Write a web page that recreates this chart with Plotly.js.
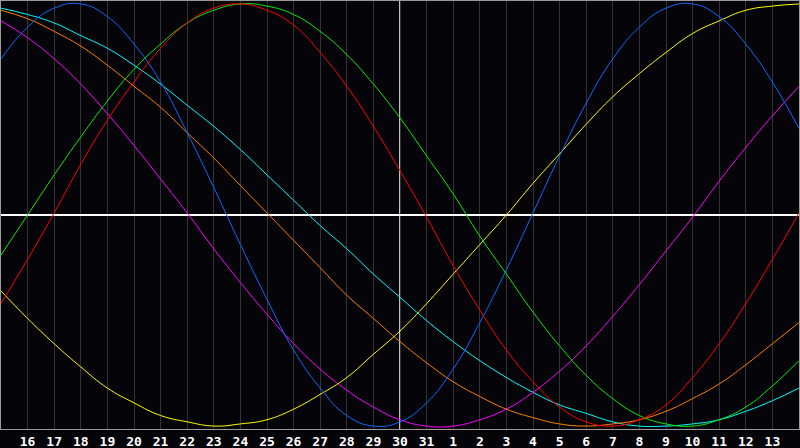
<!DOCTYPE html>
<html>
<head>
<meta charset="utf-8">
<script src="https://cdn.plot.ly/plotly-3.0.1.min.js"></script>
<style>
  html, body { margin: 0; padding: 0; background: #050409; }
  #chart { width: 800px; height: 448px; }
</style>
</head>
<body>
<div id="chart"></div>
<script>
/* ── Biorhythm chart, 30 days around today ── */

// day index: 15..31 this month, 32.. = 1.. next month
const DAYS = [15,16,17,18,19,20,21,22,23,24,25,26,27,28,29,30,31,32,33,34,35,36,37,38,39,40,41,42,43,44,45];
const TICK_DAYS = [16,17,18,19,20,21,22,23,24,25,26,27,28,29,30,31,32,33,34,35,36,37,38,39,40,41,42,43,44];
const TICK_LABELS = ['16','17','18','19','20','21','22','23','24','25','26','27','28','29','30','31',
                     '1','2','3','4','5','6','7','8','9','10','11','12','13'];
const TODAY = 30;

// values, -100..100, one per day
const PHYSICAL = [74,89,98,100,94,81,63,39,13,-14,-40,-64,-82,-95,-100,-98,-89,-73,-51,-26,1,28,53,74,89,98,100,94,81,63,41];
const EMOTIONAL = [-42,-21,1,24,45,63,79,91,98,100,97,90,77,61,42,21,-1,-24,-45,-64,-79,-91,-98,-100,-97,-90,-77,-61,-42,-21,1];
const INTELLECTUAL = [-19,0,19,37,54,69,81,91,97,100,99,95,87,76,62,46,28,10,-10,-28,-46,-62,-76,-87,-95,-99,-100,-97,-91,-81,-69];
const INTUITIVE = [92,84,74,62,48,33,17,1,-16,-32,-47,-61,-73,-83,-91,-97,-100,-100,-97,-92,-84,-74,-62,-48,-33,-17,-1,16,32,47,61];
const AESTHETIC = [-36,-49,-61,-72,-82,-89,-95,-98,-100,-99,-97,-92,-85,-77,-66,-55,-42,-28,-14,0,15,29,43,56,67,77,86,92,97,99,100];
const AWARENESS = [97,93,87,80,71,61,51,39,27,14,1,-12,-25,-38,-49,-60,-70,-79,-86,-92,-96,-99,-100,-99,-97,-93,-87,-80,-71,-61,-51];
const SPIRITUAL = [98,95,91,85,79,71,62,52,42,31,19,7,-5,-16,-28,-39,-50,-60,-69,-77,-84,-90,-94,-98,-100,-100,-99,-97,-93,-88,-82];

const SERIES = [
    { name: 'Spiritual',    y: SPIRITUAL,    color: '#00ffff' },
    { name: 'Awareness',    y: AWARENESS,    color: '#ff8000' },
    { name: 'Intuitive',    y: INTUITIVE,    color: '#ff00ff' },
    { name: 'Aesthetic',    y: AESTHETIC,    color: '#ffff00' },
    { name: 'Physical',     y: PHYSICAL,     color: '#0a6aff' },
    { name: 'Intellectual', y: INTELLECTUAL, color: '#00ee00' },
    { name: 'Emotional',    y: EMOTIONAL,    color: '#ff0000' },
];

const traces = SERIES.map(s => ({
    x: DAYS,
    y: s.y,
    mode: 'lines',
    name: s.name,
    line: { color: s.color, width: 1, shape: 'spline', smoothing: 1.3 },
    hoverinfo: 'skip',
}));

const FRAME = '#9a9a9a';

const layout = {
    width: 800, height: 448,
    margin: { t: 1, b: 19, l: 1, r: 1 },
    paper_bgcolor: '#050409',
    plot_bgcolor: '#050409',
    showlegend: false,
    xaxis: {
        range: [15, 45],
        tickvals: TICK_DAYS,
        ticktext: TICK_LABELS,
        ticks: '',
        showgrid: true, gridcolor: '#333333', gridwidth: 1,
        zeroline: false,
        showline: true, linecolor: FRAME, linewidth: 1, mirror: true,
        tickfont: { family: 'DejaVu Sans Mono', size: 13, color: '#ffffff', weight: 'bold' },
        fixedrange: true,
    },
    yaxis: {
        range: [-101.4, 101.4],
        showticklabels: false,
        ticks: '',
        showgrid: false,
        zeroline: true, zerolinecolor: '#ffffff', zerolinewidth: 1.5,
        showline: true, linecolor: FRAME, linewidth: 1, mirror: true,
        fixedrange: true,
    },
    shapes: [
        // today marker
        { type: 'line', xref: 'x', yref: 'paper', x0: TODAY, x1: TODAY, y0: 0, y1: 1,
          line: { color: '#ffffff', width: 1.5 }, layer: 'below' },
    ],
};

Plotly.newPlot('chart', traces, layout, { staticPlot: true, displayModeBar: false });
</script>
</body>
</html>
